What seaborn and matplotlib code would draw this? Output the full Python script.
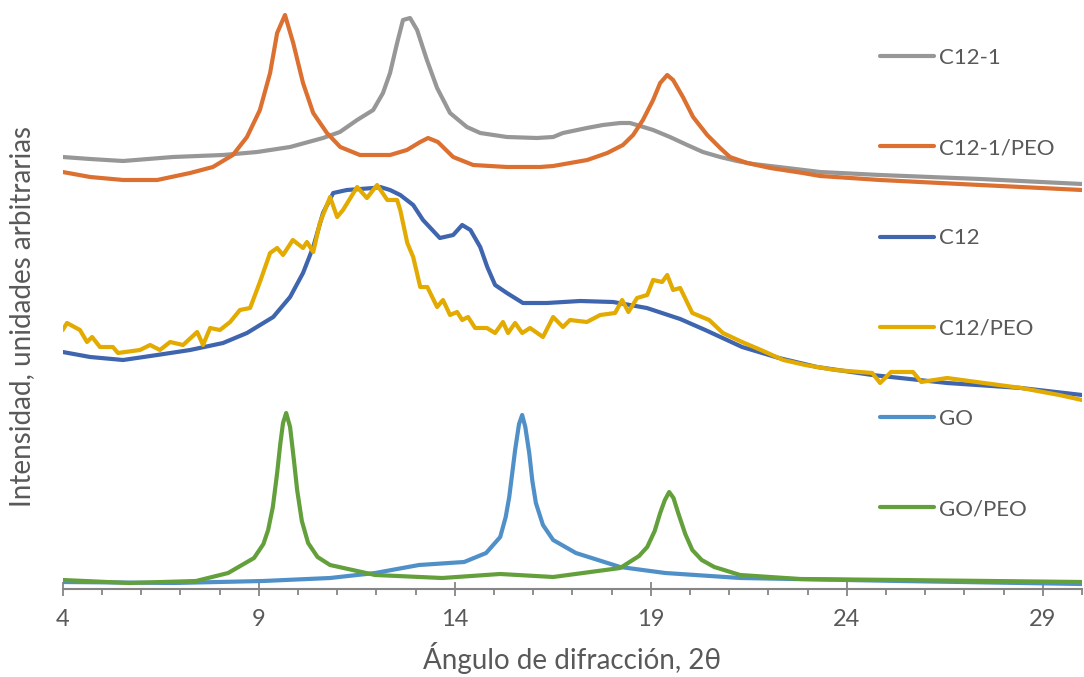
import matplotlib
matplotlib.use('Agg')
import numpy as np
import pandas as pd
import seaborn as sns
import matplotlib.pyplot as plt
from matplotlib.ticker import MultipleLocator

# difractogramas (intensidad en unidades arbitrarias, curvas desplazadas)
c121_x = [4.00, 4.70, 5.54, 6.81, 8.09, 8.96, 9.80, 10.64, 11.07, 11.51, 11.92, 12.17, 12.35, 12.53,
          12.68, 12.86, 13.04, 13.29, 13.55, 13.88, 14.31, 14.65, 15.33, 16.10, 16.51, 16.76, 17.37,
          17.78, 18.22, 18.47, 18.73, 19.06, 19.49, 19.93, 20.33, 20.77, 21.20, 21.61, 22.48, 23.32,
          24.85, 27.40, 30.00]
c121_y = [432, 430, 428, 432, 434, 437, 442, 451, 457, 469, 479, 496, 516, 546,
          569, 571, 559, 529, 501, 476, 462, 456, 452, 451, 452, 456, 461,
          464, 466, 466, 463, 459, 452, 444, 437, 432, 428, 425, 421, 417,
          414, 410, 405]

c121peo_x = [4.00, 4.70, 5.54, 6.41, 7.25, 7.83, 8.34, 8.70, 9.03, 9.29, 9.47, 9.67, 9.88, 10.13,
             10.39, 10.74, 11.08, 11.58, 12.35, 12.78, 13.12, 13.32, 13.57, 13.96, 14.47, 15.33,
             16.18, 16.51, 17.38, 17.89, 18.29, 18.55, 18.80, 19.06, 19.24, 19.42, 19.57, 19.82,
             20.08, 20.44, 20.77, 21.02, 21.46, 22.05, 22.88, 23.32, 24.85, 27.40, 30.00]
c121peo_y = [417, 412, 409, 409, 416, 422, 434, 452, 479, 516, 556, 574, 546, 506,
             476, 456, 442, 434, 434, 439, 447, 451, 447, 432, 424, 422,
             422, 423, 429, 436, 444, 454, 469, 489, 506, 514, 509, 492,
             472, 454, 441, 432, 426, 421, 416, 413, 409, 404, 399]

c12_x = [4.00, 4.70, 5.54, 6.41, 7.25, 8.09, 8.70, 9.37, 9.80, 10.13, 10.39, 10.64, 10.90, 11.25,
         11.92, 12.10, 12.35, 12.61, 12.94, 13.19, 13.62, 13.96, 14.19, 14.40, 14.65, 14.83, 15.03,
         15.33, 15.74, 16.35, 17.20, 18.04, 18.90, 19.75, 20.39, 21.33, 22.27, 23.24, 24.65, 26.56,
         28.45, 30.00]
c12_y = [237, 232, 229, 234, 239, 246, 256, 272, 292, 316, 342, 376, 396, 399,
         401, 402, 399, 394, 384, 369, 351, 354, 364, 359, 342, 322, 304,
         296, 286, 286, 288, 287, 281, 270, 259, 242, 231, 222, 214, 206,
         201, 194]

c12peo_x = [4.00, 4.11, 4.44, 4.62, 4.75, 4.95, 5.28, 5.41, 5.97, 6.23, 6.48, 6.74, 7.07, 7.43,
            7.58, 7.76, 8.01, 8.27, 8.52, 8.78, 9.03, 9.29, 9.47, 9.62, 9.87, 10.13, 10.23, 10.39,
            10.56, 10.82, 11.00, 11.15, 11.51, 11.76, 12.02, 12.28, 12.53, 12.61, 12.79, 12.94,
            13.12, 13.30, 13.55, 13.70, 13.88, 14.06, 14.19, 14.34, 14.52, 14.82, 15.03, 15.23,
            15.36, 15.54, 15.72, 15.92, 16.25, 16.51, 16.76, 16.94, 17.37, 17.71, 18.09, 18.27,
            18.43, 18.65, 18.91, 19.06, 19.29, 19.42, 19.57, 19.75, 20.06, 20.49, 20.84, 21.33,
            21.81, 22.38, 22.94, 23.70, 24.65, 24.85, 25.13, 25.69, 25.90, 26.56, 27.50, 28.45,
            29.42, 30.00]
c12peo_y = [259, 266, 259, 247, 252, 242, 242, 236, 239, 244, 239, 247, 244, 257,
            244, 261, 259, 267, 279, 281, 307, 336, 341, 334, 349, 341, 347, 337,
            366, 392, 372, 379, 402, 391, 404, 389, 389, 379, 346, 332,
            302, 302, 282, 289, 274, 277, 269, 272, 261, 261, 256, 267,
            256, 266, 256, 261, 252, 272, 262, 269, 267, 274, 276, 289,
            277, 291, 294, 309, 307, 314, 299, 301, 276, 269, 256, 247,
            239, 229, 224, 219, 216, 206, 217, 217, 207, 211, 206, 201,
            194, 189]

go_x = [4.00, 6.84, 9.11, 10.82, 11.97, 13.09, 14.24, 14.80, 15.16, 15.30, 15.39, 15.48, 15.54,
        15.64, 15.72, 15.80, 15.90, 15.98, 16.07, 16.25, 16.51, 17.09, 18.22, 19.37, 21.28, 25.36,
        30.00]
go_y = [7, 6, 8, 11, 16, 24, 27, 36, 52, 72, 92, 120, 139,
        165, 174, 162, 136, 108, 86, 64, 49, 36, 22, 16, 11, 8,
        5]

gopeo_x = [4.00, 5.69, 7.40, 8.22, 8.88, 9.12, 9.24, 9.36, 9.47, 9.55, 9.62, 9.70, 9.80, 9.90,
           9.98, 10.10, 10.26, 10.50, 10.82, 11.97, 13.68, 15.16, 16.51, 18.22, 18.70, 18.91,
           19.10, 19.24, 19.36, 19.47, 19.58, 19.70, 19.88, 20.06, 20.30, 20.62, 21.28, 22.81,
           25.36, 30.00]
gopeo_y = [9, 6, 8, 16, 31, 45, 59, 82, 116, 145, 166, 176, 162, 128,
           99, 68, 46, 32, 24, 14, 11, 15, 12, 21, 33, 42,
           58, 76, 89, 97, 91, 76, 55, 39, 29, 22, 14, 10,
           9, 7]

series = [
    ('C12-1', c121_x, c121_y, '#979797'),
    ('C12-1/PEO', c121peo_x, c121peo_y, '#DB7030'),
    ('C12', c12_x, c12_y, '#3E65AE'),
    ('C12/PEO', c12peo_x, c12peo_y, '#E3AA00'),
    ('GO', go_x, go_y, '#5090C8'),
    ('GO/PEO', gopeo_x, gopeo_y, '#63A03C'),
]
xticks = [4, 9, 14, 19, 24, 29]

sns.set_theme(style='white')
plt.rcParams['font.family'] = ['Lato', 'DejaVu Sans']
txt = '#595959'

fig = plt.figure(figsize=(10.84, 6.77), dpi=100)
ax = fig.add_axes([62.7 / 1084, 88 / 677, (1082 - 62.7) / 1084, (589 - 9) / 677])

for name, xs, ys, col in series:
    df = pd.DataFrame({'x': xs, 'y': ys})
    sns.lineplot(data=df, x='x', y='y', ax=ax, color=col, lw=3.0, label=name, sort=False)

ax.set_xlim(4, 30)
ax.set_ylim(0, 580)
ax.set_yticks([])
ax.set_xticks(xticks)
ax.xaxis.set_minor_locator(MultipleLocator(1))
ax.tick_params(axis='x', which='major', direction='inout', length=9.5, width=1.3,
               color='#868686', labelsize=17, labelcolor=txt, pad=10, bottom=True)
ax.tick_params(axis='x', which='minor', direction='out', length=4, width=1.3,
               color='#868686', bottom=True)
for s in ['top', 'right', 'left']:
    ax.spines[s].set_visible(False)
ax.spines['bottom'].set_color('#868686')
ax.spines['bottom'].set_linewidth(1.5)

ax.set_xlabel('Ángulo de difracción, 2θ', fontsize=20, color=txt, labelpad=8)
ax.set_ylabel('Intensidad, unidades arbitrarias', fontsize=20, color=txt)
ax.yaxis.set_label_coords(-0.027, 0.47)

leg = ax.legend(loc='upper left', bbox_to_anchor=(880 / 1084, 1 - 48 / 677),
                bbox_transform=fig.transFigure, frameon=False, fontsize=16,
                handlelength=2.45, handletextpad=0.2, labelspacing=3.16,
                borderpad=0, borderaxespad=0)
for t in leg.get_texts():
    t.set_color(txt)

fig.savefig('out.png', dpi=100)
